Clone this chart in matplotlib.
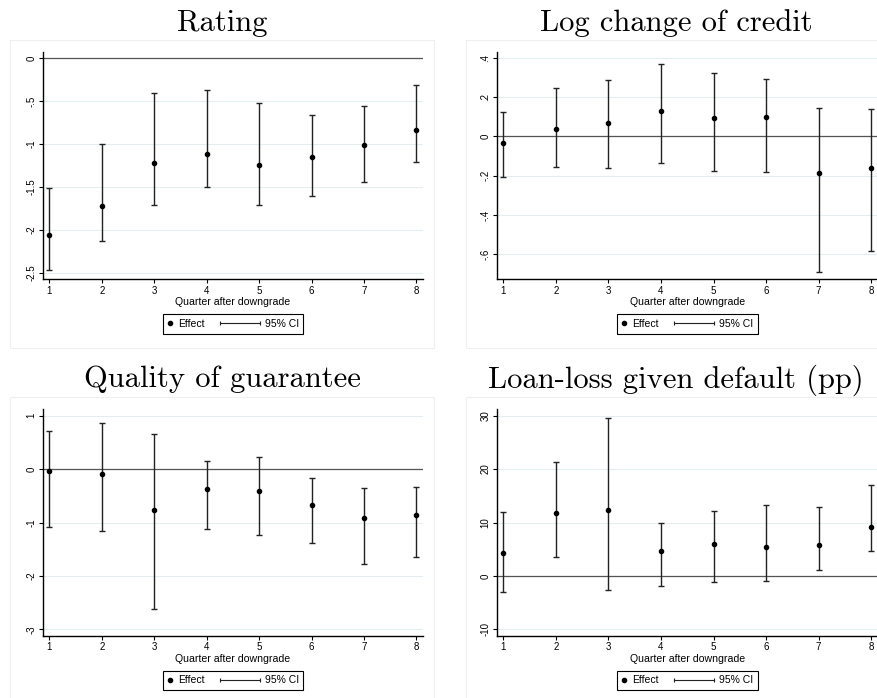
import matplotlib
matplotlib.use("Agg")
import matplotlib.pyplot as plt
from matplotlib.lines import Line2D
from matplotlib.legend_handler import HandlerBase
from matplotlib.patches import Rectangle
from matplotlib.ticker import FuncFormatter

plt.rcParams['font.family'] = ['Liberation Sans', 'DejaVu Sans']

# data
quarters = [1, 2, 3, 4, 5, 6, 7, 8]

rating_eff = [-2.06, -1.72, -1.22, -1.11, -1.24, -1.15, -1.01, -0.83]
rating_lo = [-2.47, -2.13, -1.71, -1.50, -1.71, -1.61, -1.44, -1.21]
rating_hi = [-1.51, -1.00, -0.40, -0.37, -0.52, -0.66, -0.56, -0.31]
rating_ticks = [0, -0.5, -1, -1.5, -2, -2.5]

credit_eff = [-0.036, 0.037, 0.066, 0.128, 0.094, 0.100, -0.189, -0.160]
credit_lo = [-0.207, -0.155, -0.162, -0.136, -0.177, -0.182, -0.692, -0.585]
credit_hi = [0.122, 0.245, 0.289, 0.369, 0.323, 0.291, 0.143, 0.139]
credit_ticks = [0.4, 0.2, 0, -0.2, -0.4, -0.6]

guar_eff = [-0.044, -0.087, -0.774, -0.37, -0.41, -0.67, -0.91, -0.85]
guar_lo = [-1.09, -1.15, -2.61, -1.12, -1.24, -1.39, -1.78, -1.65]
guar_hi = [0.72, 0.855, 0.66, 0.15, 0.23, -0.16, -0.35, -0.34]
guar_ticks = [1, 0, -1, -2, -3]

lgd_eff = [4.3, 11.7, 12.4, 4.7, 5.9, 5.5, 5.8, 9.2]
lgd_lo = [-3.0, 3.5, -2.7, -1.9, -1.2, -0.9, 1.2, 4.6]
lgd_hi = [11.9, 21.4, 29.5, 9.9, 12.2, 13.2, 13.0, 17.0]
lgd_ticks = [30, 20, 10, 0, -10]


def stata_fmt(v, pos=None):
    s = ('%g' % round(v, 4))
    s = s.replace('0.', '.')
    return s


class CIHandler(HandlerBase):
    # horizontal line with caps, like Stata's rcap legend key
    def create_artists(self, legend, orig_handle, xdescent, ydescent,
                       width, height, fontsize, trans):
        y = height / 2 - ydescent
        x1 = width - xdescent
        x0 = x1 - 3.85 * fontsize
        ln = Line2D([x0, x1], [y, y], color='#222222', lw=0.8,
                    marker='|', markersize=3.5, markeredgewidth=0.8,
                    transform=trans)
        return [ln]


fig = plt.figure(figsize=(8.78, 6.98), dpi=100)

# faint graph-region borders
for x0, y0, w, h in [(0.0114, 0.5014, 0.4833, 0.4413),
                     (0.5304, 0.5014, 0.5, 0.4413),
                     (0.0114, -0.05, 0.4833, 0.4812),
                     (0.5304, -0.05, 0.5, 0.4812)]:
    fig.add_artist(Rectangle((x0, y0), w, h, transform=fig.transFigure,
                             fill=False, edgecolor='#efefef', lw=0.8))

panels = [
    ("Rating", rating_eff, rating_lo, rating_hi, rating_ticks, (-2.578, 0.078)),
    ("Log change of credit", credit_eff, credit_lo, credit_hi, credit_ticks, (-0.728, 0.431)),
    ("Quality of guarantee", guar_eff, guar_lo, guar_hi, guar_ticks, (-3.125, 1.125)),
    ("Loan-loss given default (pp)", lgd_eff, lgd_lo, lgd_hi, lgd_ticks, (-11.25, 31.25)),
]

rects = [[0.0486, 0.5998, 0.4335, 0.3261],
         [0.5657, 0.5998, 0.4343, 0.3261],
         [0.0486, 0.0888, 0.4335, 0.3252],
         [0.5657, 0.0888, 0.4343, 0.3252]]
title_pos = [(0.2534, 0.956), (0.770, 0.956), (0.2534, 0.4451), (0.770, 0.4451)]

for i, (title, eff, lo, hi, yt, yl) in enumerate(panels):
    ax = fig.add_axes(rects[i])
    ax.set_xlim(0.873, 8.13)
    ax.set_ylim(yl)
    ax.set_yticks(yt)
    ax.yaxis.set_major_formatter(FuncFormatter(stata_fmt))
    ax.set_xticks(quarters)
    ax.yaxis.grid(True, color='#e4eef0', lw=0.8)
    ax.set_axisbelow(True)
    ax.axhline(0, color='#555555', lw=0.9, zorder=1)

    yerr = [[e - l for e, l in zip(eff, lo)], [h - e for e, h in zip(eff, hi)]]
    ax.errorbar(quarters, eff, yerr=yerr, fmt='none', ecolor='#222222',
                elinewidth=1.0, capsize=2, capthick=1.0, zorder=2)
    ax.plot(quarters, eff, 'o', color='black', ms=3, zorder=3)

    for s in ['top', 'right']:
        ax.spines[s].set_visible(False)
    for s in ['left', 'bottom']:
        ax.spines[s].set_linewidth(1.0)
        ax.spines[s].set_color('black')
    ax.tick_params(axis='both', direction='out', length=3, width=0.8,
                   labelsize=7, pad=1.5)
    ax.tick_params(axis='y', labelrotation=90)
    for lab in ax.get_yticklabels():
        lab.set_va('center')
    ax.set_xlabel('Quarter after downgrade', fontsize=7.6, labelpad=1)

    eff_h = Line2D([], [], marker='o', ls='none', color='black', ms=3)
    ci_h = Line2D([], [], color='#222222')
    ax.legend([eff_h, ci_h], ['Effect', '95% CI'], ncol=2,
              loc='upper center', bbox_to_anchor=(0.5, -0.153),
              borderaxespad=0,
              fontsize=7.5, frameon=True, fancybox=False, edgecolor='black',
              framealpha=1, borderpad=0.45, handlelength=0.55,
              handletextpad=0.45, columnspacing=4.8, numpoints=1,
              handler_map={ci_h: CIHandler()}).get_frame().set_linewidth(0.8)

    fig.text(title_pos[i][0], title_pos[i][1], title, family='cmr10',
             fontsize=22, ha='center', va='baseline')

fig.savefig('out.png', dpi=100)
